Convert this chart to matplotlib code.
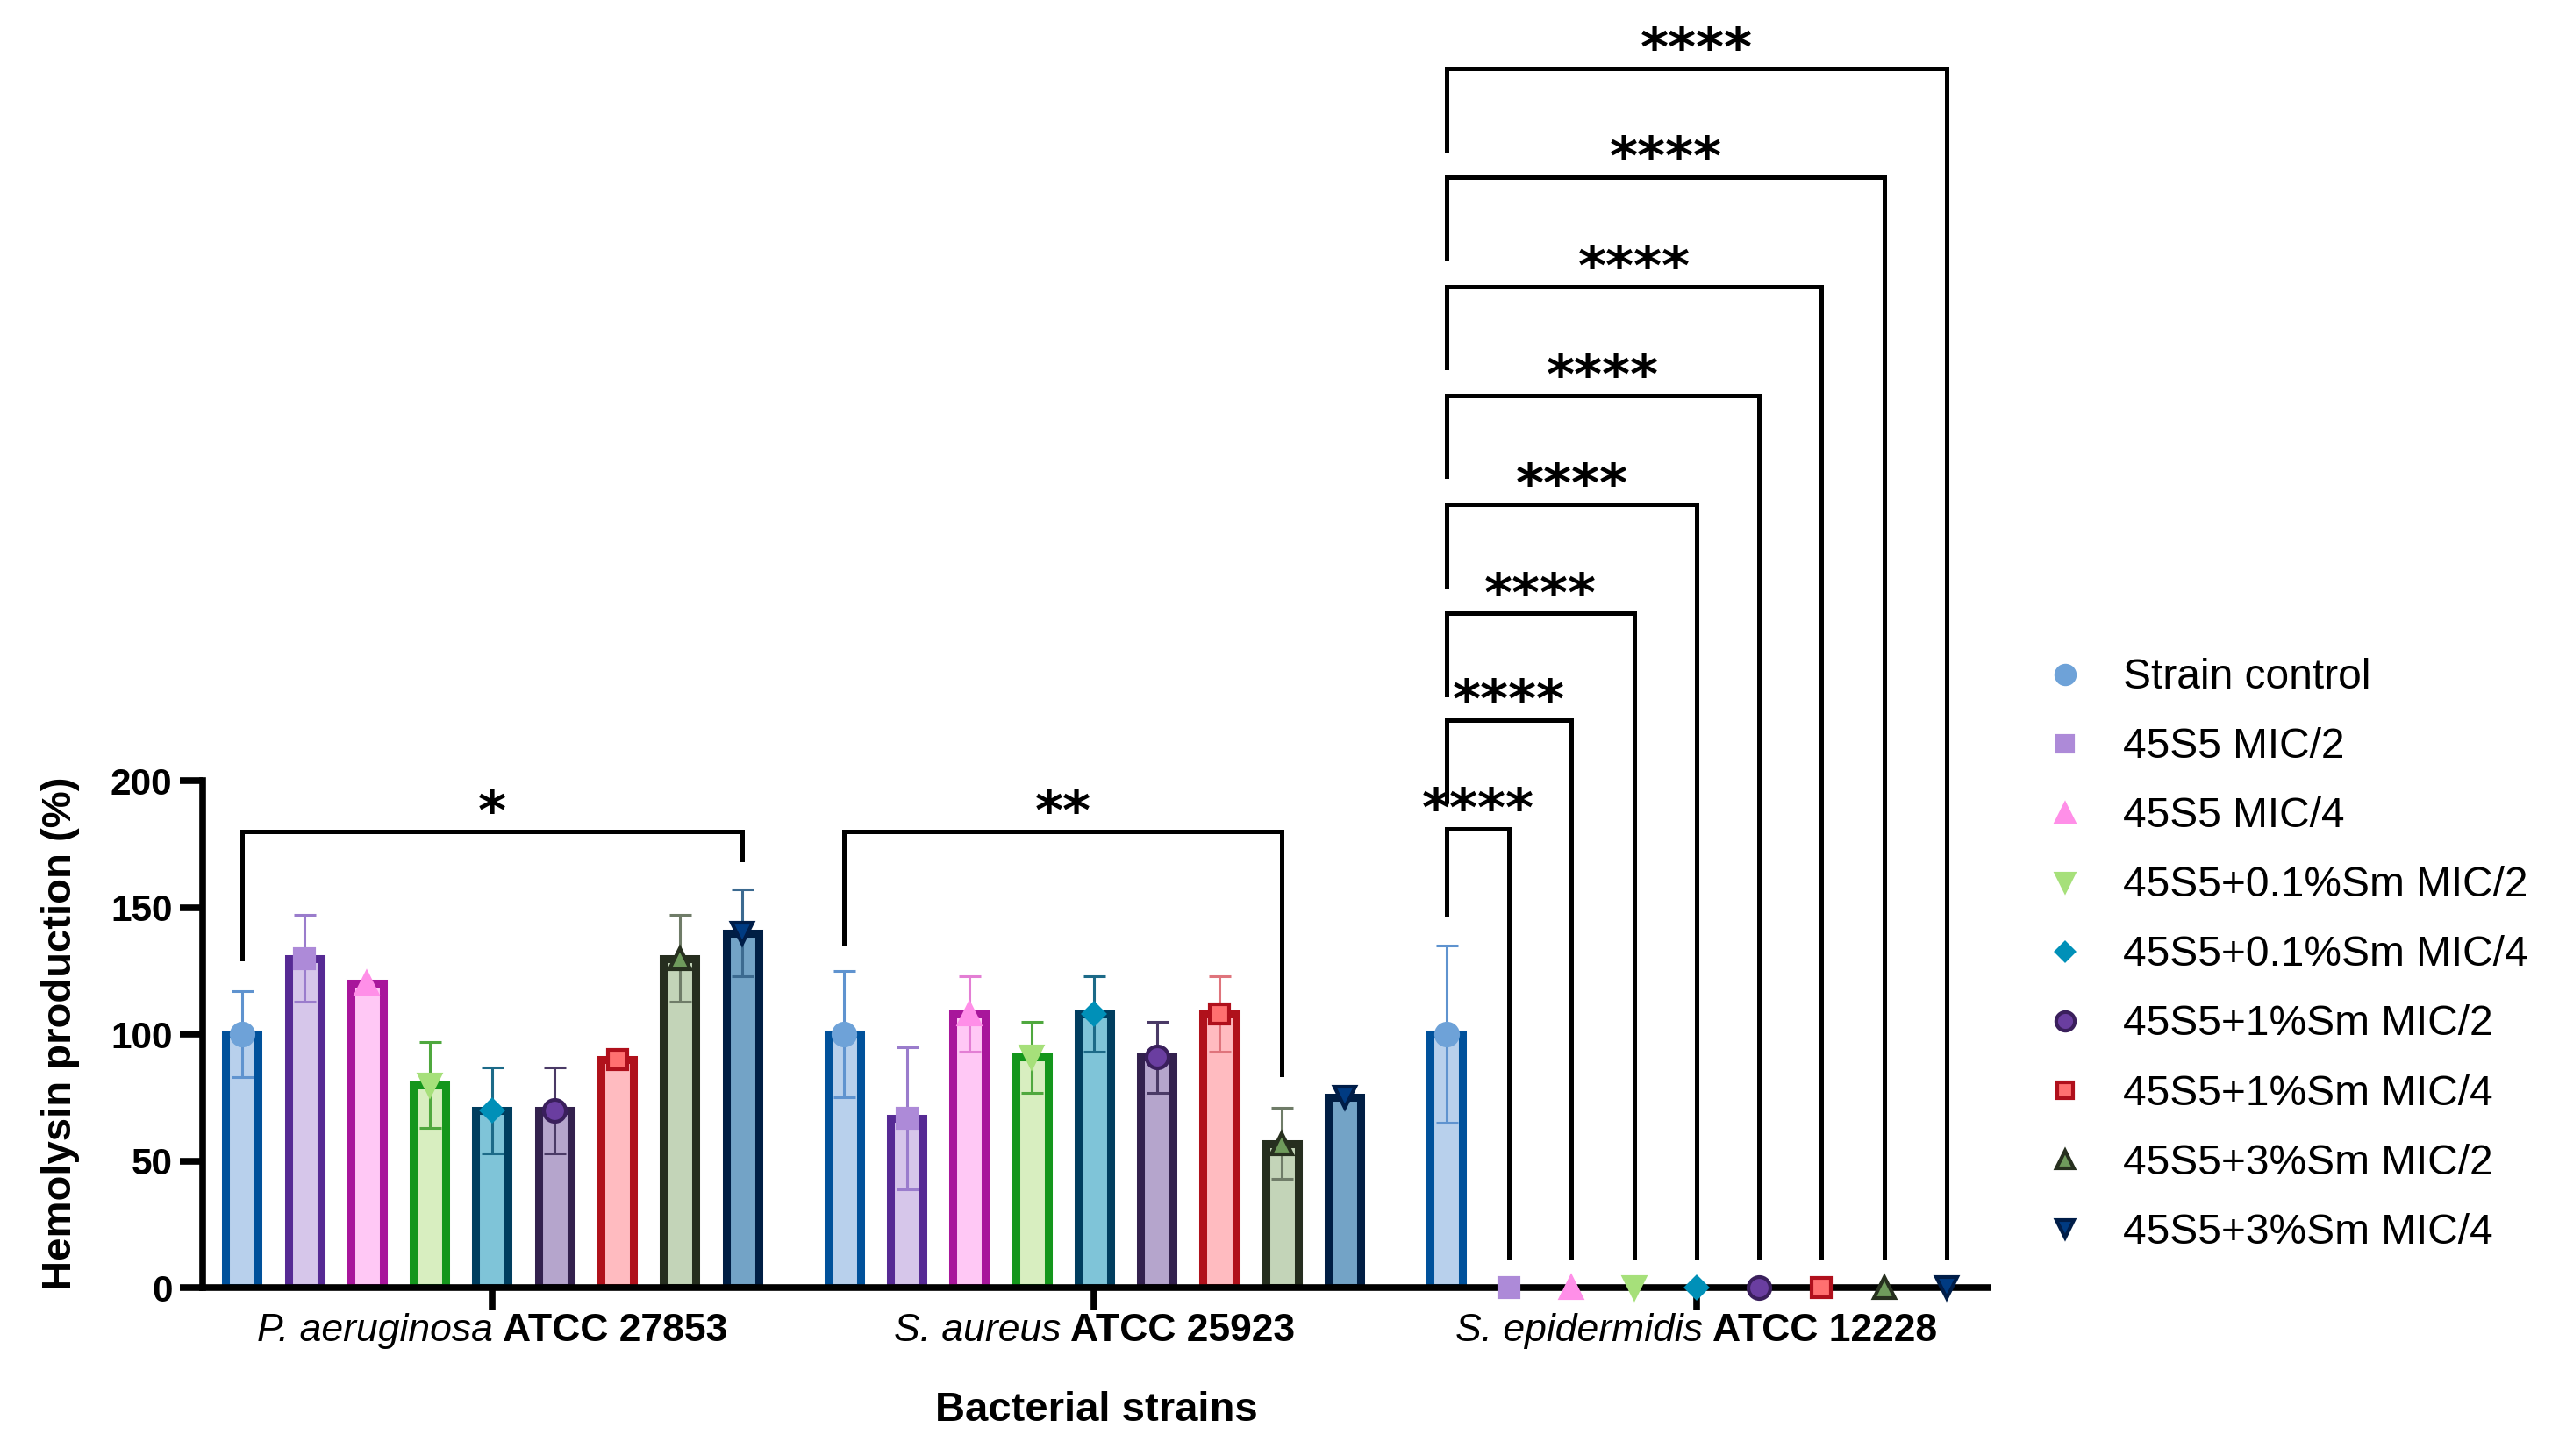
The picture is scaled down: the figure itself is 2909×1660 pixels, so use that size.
import matplotlib.pyplot as plt
from matplotlib.lines import Line2D
from matplotlib.offsetbox import TextArea, HPacker, AnnotationBbox
import numpy as np

plt.rcParams['font.family'] = ['Liberation Sans', 'DejaVu Sans']

# strains (italic species + bold collection number)
species = ['P. aeruginosa', 'S. aureus', 'S. epidermidis']
atcc = ['ATCC 27853', 'ATCC 25923', 'ATCC 12228']

treatments = ['Strain control', '45S5 MIC/2', '45S5 MIC/4',
              '45S5+0.1%Sm MIC/2', '45S5+0.1%Sm MIC/4',
              '45S5+1%Sm MIC/2', '45S5+1%Sm MIC/4',
              '45S5+3%Sm MIC/2', '45S5+3%Sm MIC/4']

# hemolysin production (%), mean and SD, one value per treatment
pa_mean = [100, 130, 120, 80, 70, 70, 90, 130, 140]
pa_sd = [17, 17, 0, 17, 17, 17, 0, 17, 17]
sa_mean = [100, 67, 108, 91, 108, 91, 108, 57, 75]
sa_sd = [25, 28, 15, 14, 15, 14, 15, 14, 0]
se_mean = [100, 0, 0, 0, 0, 0, 0, 0, 0]
se_sd = [35, 0, 0, 0, 0, 0, 0, 0, 0]

means = [pa_mean, sa_mean, se_mean]
sds = [pa_sd, sa_sd, se_sd]

# significance: (group, bar a, bar b, bracket level, left leg end, right leg end, label)
sig_pa = [(0, 0, 8, 180, 130, 169, '*')]
sig_sa = [(1, 0, 7, 180, 136, 84, '**')]
se_levels = [181, 224, 266, 309, 352, 395, 438, 481]
se_left_ends = [147, 192, 234, 277, 320, 363, 406, 449]
sig_se = [(2, 0, k + 1, se_levels[k], se_left_ends[k], 12, '****') for k in range(8)]

# styling
face = ['#b8d0ec', '#d6c6ea', '#ffc8f5', '#d8eec0', '#7fc4d8',
        '#b5a5cc', '#ffbbc0', '#c3d4b8', '#73a3c6']
edge = ['#00519b', '#562a94', '#a8169b', '#14961c', '#003e5f',
        '#33214e', '#b0111b', '#262e1f', '#001e44']
mfc = ['#6ea2d8', '#ad8ad8', '#ff8fe8', '#a6e07a', '#0090b8',
       '#6a3ea0', '#ff7070', '#6f9b5c', '#003b82']
mec = ['#6ea2d8', '#ad8ad8', '#ff8fe8', '#a6e07a', '#0090b8',
       '#3a1f5c', '#b0101c', '#27301f', '#001d48']
ecol = ['#5f93cf', '#9a7ccc', '#e37ed4', '#4fa83e', '#1c6a88',
        '#4a3a66', '#df747c', '#6f7c68', '#3c6a90']
mk = ['o', 's', '^', 'v', 'D', 'o', 's', '^', 'v']
ms = [18, 16, 17, 17, 12, 18, 16, 17, 17]

gstep = 9.63
barw = 0.52

fig = plt.figure(figsize=(29.09, 16.6), dpi=100)
ax = fig.add_axes([0.0795, 0.1155, 0.6995, 0.8845])

for g in range(3):
    for i in range(9):
        x = g * gstep + i
        m = means[g][i]
        s = sds[g][i]
        if m > 0:
            ax.bar(x, m, width=barw, color=face[i], edgecolor=edge[i],
                   linewidth=6.5, zorder=2)
        if s > 0:
            ax.errorbar(x, m, yerr=s, fmt='none', ecolor=ecol[i],
                        elinewidth=2.2, capsize=9, capthick=2.2, zorder=3)
        ax.plot(x, m, marker=mk[i], ms=ms[i], mfc=mfc[i], mec=mec[i],
                mew=3, ls='none', zorder=5, clip_on=False)

# brackets
for g, a, b, lev, le, re, lab in sig_pa + sig_sa + sig_se:
    xa = g * gstep + a
    xb = g * gstep + b
    ax.plot([xa, xa, xb, xb], [le, lev, lev, re], color='black', lw=3.6,
            solid_joinstyle='miter', clip_on=False, zorder=4)
    ax.text((xa + xb) / 2, lev + 1.0, lab, ha='center', va='baseline',
            fontsize=44, fontweight='bold', family='DejaVu Sans')

ax.set_xlim(-0.625, 27.92)
ax.set_ylim(0, 508)
ax.spines['top'].set_visible(False)
ax.spines['right'].set_visible(False)
ax.spines['left'].set_bounds(0, 200)
ax.spines['left'].set_linewidth(5.5)
ax.spines['bottom'].set_linewidth(5.5)
ax.spines['bottom'].set_zorder(4.5)

ax.set_yticks([0, 50, 100, 150, 200])
ax.tick_params(axis='y', length=19, width=5.5, labelsize=30.5, pad=6)
for t in ax.get_yticklabels():
    t.set_fontweight('bold')

centers = [g * gstep + 4 for g in range(3)]
ax.set_xticks(centers)
ax.set_xticklabels(['', '', ''])
ax.tick_params(axis='x', length=19, width=5.5)

for g in range(3):
    pack = HPacker(children=[
        TextArea(species[g], textprops=dict(fontsize=32, fontstyle='italic')),
        TextArea(atcc[g], textprops=dict(fontsize=32, fontweight='bold'))],
        align='baseline', pad=0, sep=8)
    ab = AnnotationBbox(pack, (centers[g], 0), xycoords=('data', 'axes fraction'),
                        xybox=(0, -21), boxcoords='offset points',
                        box_alignment=(0.5, 1.0), frameon=False, pad=0,
                        annotation_clip=False)
    ax.add_artist(ab)

fig.text(0.0237, 0.2905, 'Hemolysin production (%)', rotation=90,
         ha='center', va='center', fontsize=34, fontweight='bold')
fig.text(0.4295, 0.0315, 'Bacterial strains', ha='center', va='center',
         fontsize=34, fontweight='bold')

handles = [Line2D([], [], marker=mk[i], ms=ms[i] * 0.85, mfc=mfc[i], mec=mec[i],
                  mew=3, ls='none') for i in range(9)]
fig.legend(handles, treatments, loc='center left', bbox_to_anchor=(0.801, 0.344),
           frameon=False, fontsize=34.5, handlelength=1.0, handletextpad=0.88,
           labelspacing=0.71, borderpad=0, borderaxespad=0)

fig.savefig('out.png', dpi=100)
